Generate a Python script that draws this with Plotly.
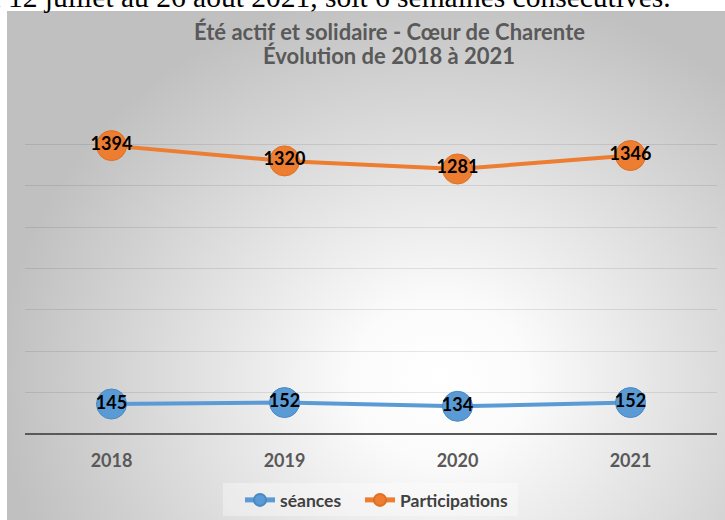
import base64
import plotly.graph_objects as go

# ---- data ----
years = ["2018", "2019", "2020", "2021"]
seances = [145, 152, 134, 152]
participations = [1394, 1320, 1281, 1346]
title_line1 = "Été actif et solidaire - Cœur de Charente"
title_line2 = "Évolution de 2018 à 2021"
top_text = "du 12 juillet au 26 août 2021, soit 6 semaines consécutives."

# ---- geometry (pixels) ----
W, H = 725, 520
L, R, T, B = 25, 717, 103, 434
FONT = "Lato"


def px_x(x):
    return (x - L) / (R - L)


def px_y(y):
    return (B - y) / (B - T)


# radial-gradient background for the chart box
bx0, by0, bw, bh = 7, 11, 725, 515
cx, cy = 440 - bx0, 380 - by0
svg = (
    f'<svg xmlns="http://www.w3.org/2000/svg" width="{bw}" height="{bh}" '
    f'viewBox="0 0 {bw} {bh}" preserveAspectRatio="none">'
    '<defs><radialGradient id="g" gradientUnits="userSpaceOnUse" '
    f'cx="{cx}" cy="{cy}" r="440" '
    f'gradientTransform="translate({cx} {cy}) scale(1 0.9) translate({-cx} {-cy})">'
    '<stop offset="0" stop-color="#ffffff"/>'
    '<stop offset="0.2" stop-color="#fbfbfb"/>'
    '<stop offset="1" stop-color="#c0c0c0"/>'
    '</radialGradient></defs>'
    f'<rect width="{bw}" height="{bh}" fill="url(#g)"/></svg>'
)
svg_uri = "data:image/svg+xml;base64," + base64.b64encode(svg.encode()).decode()

BLUE = "#5B9BD5"
ORANGE = "#ED7D31"
legend_font = dict(family=FONT, size=17.5, color="#404040", weight="bold")

fig = go.Figure()
fig.add_trace(go.Scatter(
    x=years, y=seances, name="séances", mode="lines+markers+text",
    line=dict(color=BLUE, width=4),
    marker=dict(size=30, color=BLUE, line=dict(color="#4a88c4", width=1)),
    text=[str(v) for v in seances], textposition="middle center",
    textfont=dict(family=FONT, size=18, color="#000000", weight="bold"),
    hoverinfo="skip", legend="legend",
))
fig.add_trace(go.Scatter(
    x=years, y=participations, name="Participations", mode="lines+markers+text",
    line=dict(color=ORANGE, width=4),
    marker=dict(size=30, color=ORANGE, line=dict(color="#e07020", width=1)),
    text=[str(v) for v in participations], textposition="middle center",
    textfont=dict(family=FONT, size=18, color="#000000", weight="bold"),
    hoverinfo="skip", legend="legend2",
))

fig.update_layout(
    width=W, height=H,
    margin=dict(l=L, r=W - R, t=T, b=H - B, pad=0, autoexpand=False),
    paper_bgcolor="#ffffff",
    plot_bgcolor="rgba(0,0,0,0)",
    showlegend=True,
    legend=dict(
        orientation="h", x=px_x(240), xanchor="left",
        y=px_y(482), yanchor="top",
        bgcolor="rgba(0,0,0,0)", borderwidth=0,
        font=legend_font, itemsizing="constant",
    ),
    legend2=dict(
        orientation="h", x=px_x(360), xanchor="left",
        y=px_y(482), yanchor="top",
        bgcolor="rgba(0,0,0,0)", borderwidth=0,
        font=legend_font, itemsizing="constant",
    ),
    xaxis=dict(
        type="category", showgrid=False, showline=False, ticks="",
        zeroline=False, range=[-0.5, 3.5], automargin=False,
        tickfont=dict(family=FONT, size=18, color="#595959", weight="bold"),
        ticklabelstandoff=14,
    ),
    yaxis=dict(
        range=[0, 1600], dtick=200, showticklabels=False, ticks="",
        showgrid=True, gridcolor="rgba(0,0,0,0.09)", gridwidth=1,
        zeroline=True, zerolinecolor="#595959", zerolinewidth=2,
        showline=False, automargin=False,
    ),
    images=[dict(
        source=svg_uri, xref="paper", yref="paper",
        x=px_x(bx0), y=px_y(by0), sizex=bw / (R - L), sizey=bh / (B - T),
        xanchor="left", yanchor="top", sizing="stretch", layer="below",
    )],
    shapes=[dict(
        type="rect", xref="paper", yref="paper",
        x0=px_x(223), x1=px_x(518), y0=px_y(516), y1=px_y(483),
        fillcolor="rgba(255,255,255,0.35)", line=dict(width=0), layer="above",
    )],
    annotations=[
        dict(text=title_line1, x=px_x(389), y=px_y(32), xref="paper", yref="paper",
             xanchor="center", yanchor="middle", showarrow=False,
             font=dict(family=FONT, size=22, color="#595959", weight="bold")),
        dict(text=title_line2, x=px_x(389), y=px_y(55), xref="paper", yref="paper",
             xanchor="center", yanchor="middle", showarrow=False,
             font=dict(family=FONT, size=22, color="#595959", weight="bold")),
        dict(text=top_text, x=px_x(-31), y=px_y(-3), xref="paper", yref="paper",
             xanchor="left", yanchor="middle", showarrow=False,
             font=dict(family="Liberation Serif", size=29.5, color="#000000")),
    ],
)

fig.write_html(
    "out.html",
    config={"displayModeBar": False},
    post_script="document.body.style.margin='0';document.body.style.padding='0';",
)
